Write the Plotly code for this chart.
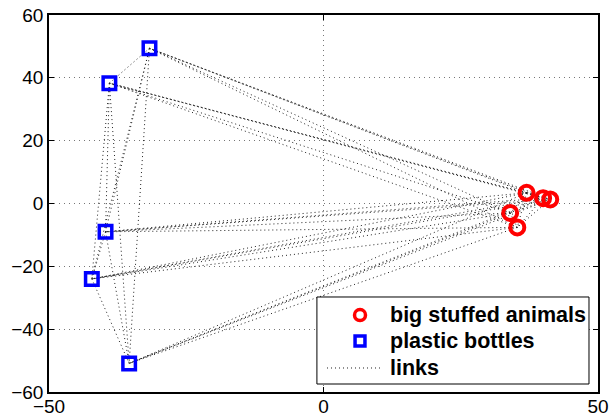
import itertools
import plotly.graph_objects as go

# Positions of the two groups in the embedding space
animals_x = [37.0, 40.0, 41.3, 34.0, 35.3]
animals_y = [3.4, 1.7, 1.3, -3.0, -7.6]
bottles_x = [-31.7, -39.0, -39.7, -42.2, -35.4]
bottles_y = [49.4, 38.3, -9.0, -24.0, -50.9]

x_ticks = [-50, 0, 50]
y_ticks = [-60, -40, -20, 0, 20, 40, 60]

legend_labels = ["big stuffed animals", "plastic bottles", "links"]

RED = "#ff0000"
BLUE = "#0000ff"
LINK = "#222222"

# Every pair of points is linked
all_x = animals_x + bottles_x
all_y = animals_y + bottles_y
link_x, link_y = [], []
for i, j in itertools.combinations(range(len(all_x)), 2):
    link_x += [all_x[i], all_x[j], None]
    link_y += [all_y[i], all_y[j], None]

fig = go.Figure()
fig.add_trace(go.Scatter(
    x=link_x, y=link_y, mode="lines", name=legend_labels[2],
    line=dict(color=LINK, width=1, dash="1px,3px"),
))
fig.add_trace(go.Scatter(
    x=animals_x, y=animals_y, mode="markers", name=legend_labels[0],
    marker=dict(symbol="circle-open", size=14, color=RED,
                line=dict(width=4, color=RED)),
))
fig.add_trace(go.Scatter(
    x=bottles_x, y=bottles_y, mode="markers", name=legend_labels[1],
    marker=dict(symbol="square-open", size=12.5, color=BLUE,
                line=dict(width=3.5, color=BLUE)),
))

axis_common = dict(
    showline=True, linecolor="black", linewidth=1.5, mirror="ticks",
    ticks="inside", ticklen=5, tickcolor="black",
    showgrid=True, gridcolor="#777777", gridwidth=1, griddash="1px,4px",
    zeroline=False, automargin=False,
    tickfont=dict(family="Liberation Sans, Arial, sans-serif", size=19, color="black"),
)
fig.update_xaxes(range=[-50, 50], tickvals=x_ticks,
                 ticktext=[str(v).replace("-", "\u2212") for v in x_ticks],
                 ticklabelstandoff=-4, **axis_common)
fig.update_yaxes(range=[-60, 60], tickvals=y_ticks,
                 ticktext=[str(v).replace("-", "\u2212") for v in y_ticks],
                 **axis_common)

# Boxed legend in the lower right corner, laid out in paper coordinates
box = dict(x0=0.488, x1=0.9836, y0=0.0212, y1=0.252)
rows = [0.2042, 0.1353, 0.0637]
key_x = 0.5665
text_x = 0.618
rx, ry = 5.5 / 549, 5.5 / 377

shapes = [
    dict(type="rect", xref="paper", yref="paper", **box,
         line=dict(color="black", width=1), fillcolor="white", layer="above"),
    dict(type="circle", xref="paper", yref="paper",
         x0=key_x - rx, x1=key_x + rx, y0=rows[0] - ry, y1=rows[0] + ry,
         line=dict(color=RED, width=3.5), layer="above"),
    dict(type="rect", xref="paper", yref="paper",
         x0=key_x - 0.9 * rx, x1=key_x + 0.9 * rx,
         y0=rows[1] - 0.9 * ry, y1=rows[1] + 0.9 * ry,
         line=dict(color=BLUE, width=3.5), layer="above"),
    dict(type="line", xref="paper", yref="paper",
         x0=0.5064, x1=0.6029, y0=rows[2], y1=rows[2],
         line=dict(color=LINK, width=1, dash="1px,3px"), layer="above"),
]
annotations = [
    dict(xref="paper", yref="paper", x=text_x, y=yy, text=f"<b>{lab}</b>",
         showarrow=False, xanchor="left", yanchor="middle",
         font=dict(family="Liberation Sans, Arial, sans-serif", size=21.5, color="black"))
    for lab, yy in zip(legend_labels, rows)
]

fig.update_layout(
    width=613, height=416,
    margin=dict(l=49, r=15, t=15, b=24),
    plot_bgcolor="white", paper_bgcolor="white",
    showlegend=False,
    shapes=shapes,
    annotations=annotations,
)

fig.write_html("out.html")
